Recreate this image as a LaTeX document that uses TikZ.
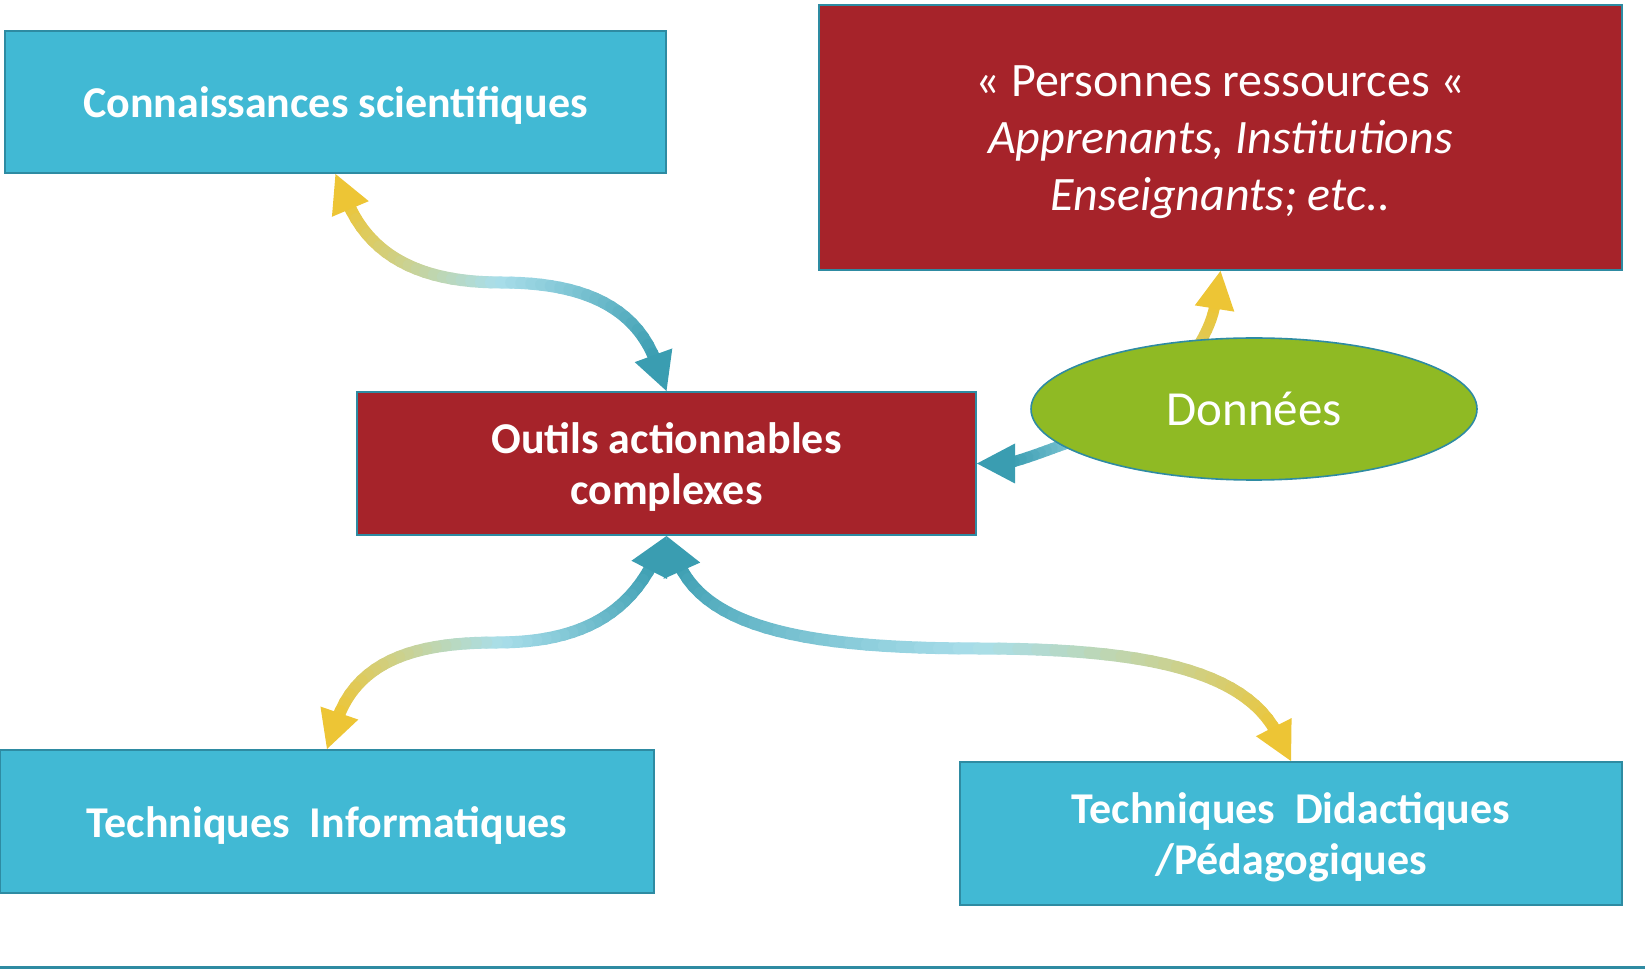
\documentclass[tikz,border=0pt]{standalone}
\usepackage{fontspec}
\setmainfont{Carlito}
\usetikzlibrary{shapes.geometric,calc}
\definecolor{cy}{HTML}{41B9D4}
\definecolor{rd}{HTML}{A6232A}
\definecolor{gr}{HTML}{8FBA24}
\definecolor{bd}{HTML}{2E8BA2}
\definecolor{yl}{HTML}{EDC535}
\definecolor{lb}{HTML}{A9DEEA}
\definecolor{tl}{HTML}{3A9DB1}
\colorlet{ylg}{lb!45!yl}
\pgfdeclarelayer{bg}
\pgfsetlayers{bg,main}
\tikzset{
  box/.style={rectangle, draw=bd, line width=2pt, inner sep=0pt},
  cybox/.style={box, fill=cy},
  rdbox/.style={box, fill=rd},
  label/.style={text=white, align=center, inner sep=0pt},
  boldlabel/.style={label, font=\bfseries\fontsize{44}{51}\selectfont},
  datnode/.style={ellipse, draw=bd, line width=1.6pt, fill=gr, inner sep=0pt, text=white,
    minimum width=446pt, minimum height=142pt, font=\fontsize{49}{58}\selectfont},
  baseline/.style={draw=bd, line width=3pt}
}
% gradient half-curve: #1 start, #2 to options, #3 end, #4 start colour, #5 end colour, #6 width, #7 segments
\newcommand\ghalf[7]{%
  \foreach \i in {1,...,#7}{%
    \pgfmathsetmacro\ta{(\i-1)/#7}%
    \pgfmathsetmacro\tb{\i/#7}%
    \pgfmathtruncatemacro\pc{100*(\i-0.5)/#7}%
    \path #1 to[#2] coordinate[pos=\ta] (ga) coordinate[pos=\tb] (gb) #3;%
    \draw[line width=#6, line cap=round, color=#5!\pc!#4] (ga) -- (gb);%
  }%
}
% arrow head: #1 apex, #2 direction from apex to base, #3 colour
\newcommand\tiptri[3]{%
  \fill[#3] (#1) -- ($(#1)+(#2:38)+(#2+90:20)$) -- ($(#1)+(#2:38)+(#2-90:20)$) -- cycle;}
\begin{document}
\begin{tikzpicture}[x=1pt,y=1pt]
\useasboundingbox (0,0) rectangle (1645,970);
% nodes
\node[cybox, minimum width=661pt, minimum height=142pt] (con) at (335.5,868) {};
\node[boldlabel] (cont) at (335.5,865) {Connaissances scientifiques};
\node[rdbox, minimum width=803pt, minimum height=265pt] (per) at (1220.5,832.5) {};
\node[label, font=\fontsize{48}{57}\selectfont] (pert) at (1220.5,827.5)
  {« Personnes ressources «\\ \textit{Apprenants, Institutions}\\ \textit{Enseignants; etc..}};
\node[rdbox, minimum width=619pt, minimum height=143pt] (out) at (666.5,506.5) {};
\node[boldlabel] (outt) at (666.5,503.5) {Outils actionnables\\ complexes};
\node[cybox, minimum width=654pt, minimum height=143pt] (inf) at (327,148.5) {};
\node[boldlabel] (inft) at (327,144.5) {Techniques~~Informatiques};
\node[cybox, minimum width=662pt, minimum height=143pt] (did) at (1291,136.5) {};
\node[boldlabel] (didt) at (1291,132.5) {Techniques~~Didactiques\\ /Pédagogiques};
\node[datnode] (dat) at (1254,561) {Données};
% connectors
\begin{pgfonlayer}{bg}
% Connaissances <-> Outils
\coordinate (c1a) at ($(con.south)+(-67:30)$);
\coordinate (c1m) at ($(con.south)!0.5!(out.north)$);
\coordinate (c1b) at ($(out.north)+(110:30)$);
\ghalf{(c1a)}{out=-67,in=180}{(c1m)}{yl}{lb}{12pt}{20}
\ghalf{(c1m)}{out=0,in=110}{(c1b)}{lb}{tl}{12pt}{20}
\tiptri{con.south}{-67}{yl}
\tiptri{out.north}{110}{tl}
% Outils <-> Informatiques
\coordinate (c2a) at ($(out.south)+(243:30)$);
\coordinate (c2m) at ($(out.south)!0.5!(inf.north)$);
\coordinate (c2b) at ($(inf.north)+(71:30)$);
\ghalf{(c2a)}{out=243,in=0}{(c2m)}{tl}{lb}{12pt}{20}
\ghalf{(c2m)}{out=180,in=71}{(c2b)}{lb}{yl}{12pt}{20}
\tiptri{inf.north}{71}{yl}
\tiptri{out.south}{243}{tl}
% Outils <-> Didactiques
\coordinate (c3a) at ($(out.south)+(-66:30)$);
\coordinate (c3m) at ($(out.south)!0.5!(did.north)$);
\coordinate (c3b) at ($(did.north)+(117:30)$);
\ghalf{(c3a)}{out=-66,in=180,out looseness=0.6,in looseness=1.35}{(c3m)}{tl}{lb}{12pt}{24}
\ghalf{(c3m)}{out=0,in=117,out looseness=1.35,in looseness=0.6}{(c3b)}{lb}{yl}{12pt}{24}
\tiptri{did.north}{117}{yl}
\tiptri{out.south}{-66}{tl}
% Donnees -> Personnes
\coordinate (d1s) at ($(dat.center)+(-78,20)$);
\coordinate (d1b) at ($(per.south)+(261:30)$);
\ghalf{(d1s)}{out=70,in=261}{(d1b)}{ylg}{yl}{11pt}{16}
\tiptri{per.south}{261}{yl}
% Donnees -> Outils
\coordinate (d2s) at ($(dat.center)+(-144,-23)$);
\coordinate (d2b) at ($(out.east)+(0:30)$);
\ghalf{(d2s)}{out=190,in=15}{(d2b)}{lb}{tl}{11pt}{16}
\tiptri{out.east}{0}{tl}
\end{pgfonlayer}
% bottom rule
\coordinate (bl) at (0,2.2);
\coordinate (br) at (1645,2.2);
\draw[baseline] (bl) -- (br);
\end{tikzpicture}
\end{document}
